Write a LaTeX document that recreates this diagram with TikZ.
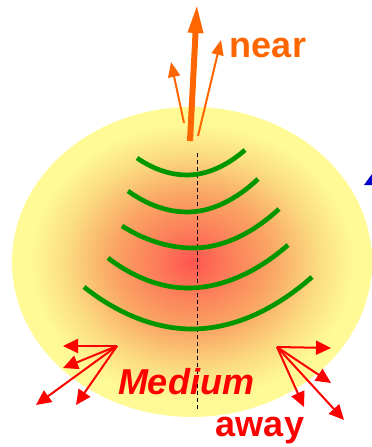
\documentclass[tikz,border=0pt]{standalone}
\usepackage{fontspec}
\setmainfont{Liberation Sans}
\usetikzlibrary{arrows.meta}

\definecolor{glowred}{RGB}{255,85,80}
\definecolor{glowmid}{RGB}{252,128,90}
\definecolor{gloworange}{RGB}{250,165,100}
\definecolor{glowpale}{RGB}{251,220,130}
\definecolor{glowyellow}{RGB}{255,250,150}
\definecolor{jetorange}{RGB}{255,102,0}
\definecolor{wavegreen}{RGB}{0,150,0}
\definecolor{tipblue}{RGB}{0,0,200}

\pgfdeclareradialshading{medium}{\pgfpoint{0bp}{0bp}}{color(0bp)=(glowred); color(5.5bp)=(glowmid); color(11bp)=(gloworange); color(17.5bp)=(glowpale); color(22.5bp)=(glowyellow); color(50bp)=(glowyellow)}

\tikzset{
  wave/.style = {wavegreen, line width=4.7pt},
  jet/.style = {jetorange, line width=2pt, -{Triangle[length=15pt,width=12pt]}},
  kick/.style = {red, line width=2pt, -{Triangle[length=15pt,width=14pt]}},
  label/.style = {font=\bfseries\fontsize{36}{36}\selectfont, anchor=base}
}

\begin{document}
\begin{tikzpicture}[x=1pt, y=-1pt]
\useasboundingbox (0,0) rectangle (372,447);

% the medium
\shade[shading=medium] (192,262) ellipse [x radius=180, y radius=155];
\fill[tipblue] (364,185)--(372,174)--(372,185)--cycle;

% points of the jets
\coordinate (jetbase) at (190,141);
\coordinate (jettip) at (197,4);
\coordinate (leftbase) at (184,123);
\coordinate (lefttip) at (171,62);
\coordinate (rightbase) at (198,136);
\coordinate (righttip) at (221,40);
\coordinate (axtop) at (197,153);
\coordinate (axbottom) at (197,409);

\draw[black, line width=1pt, dash pattern=on 4pt off 3pt] (axtop)--(axbottom);

% wave fronts
\draw[wave] (137,158) parabola bend (187,175) (245,150);
\draw[wave] (128,191) parabola bend (187,212) (258,179);
\draw[wave] (122,226) parabola bend (193,248) (279,209);
\draw[wave] (108,258) parabola bend (188,288) (288,245);
\draw[wave] (84,287) parabola bend (192,329) (312,277);

% near side
\draw[jetorange, line width=6pt, -{Triangle[length=29pt,width=14pt]}] (jetbase)--(jettip);
\draw[jet] (leftbase)--(lefttip);
\draw[jet] (rightbase)--(righttip);
\node[label, text=jetorange] (near) at (268,57) {near};

% away side
\coordinate (kl) at (117,346);
\coordinate (kr) at (277,347);
\foreach \x/\y [count=\i] in {63/346, 63/368, 36/405, 76/405}
  \coordinate (kl\i) at (\x,\y);
\foreach \x/\y [count=\i] in {331/348, 331/383, 304/407, 344/420}
  \coordinate (kr\i) at (\x,\y);
\foreach \i in {1,...,4} {
  \draw[kick] (kl)--(kl\i);
  \draw[kick] (kr)--(kr\i);
}
\node[label, text=red, font=\bfseries\itshape\fontsize{36}{36}\selectfont] (medium) at (186,394) {Medium};
\node[label, text=red] (away) at (260,436) {away};
\end{tikzpicture}
\end{document}
